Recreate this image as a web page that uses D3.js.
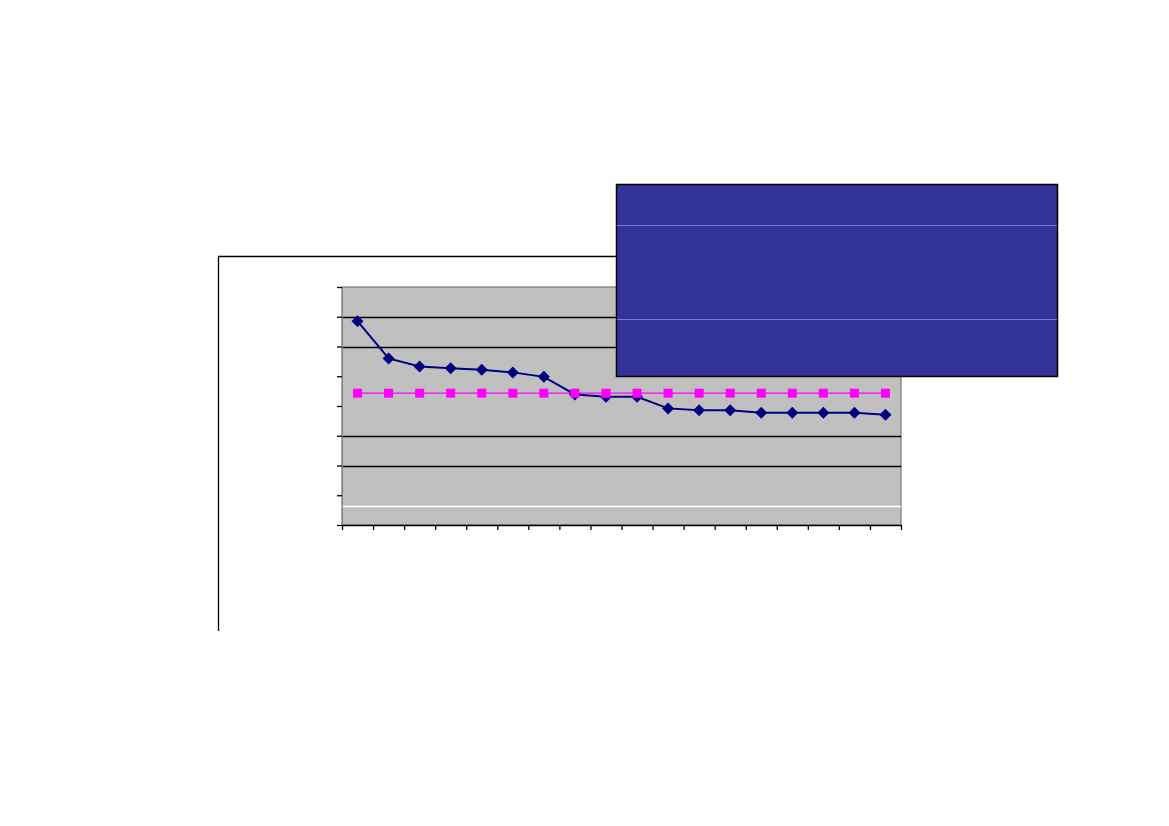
<!DOCTYPE html>
<html>
<head>
<meta charset="utf-8">
<script src="https://cdn.jsdelivr.net/npm/d3@7"></script>
<style>
  body { margin: 0; background: #fff; }
  svg { display: block; }
</style>
</head>
<body>
<div id="chart"></div>
<script>
// categories (no labels are shown in the picture)
const categories = d3.range(1, 19).map(function (d) { return 'c' + d })

// series values
const seriesA = [6.85, 5.6, 5.33, 5.27, 5.22, 5.13, 4.98, 4.39, 4.31, 4.31,
  3.92, 3.86, 3.86, 3.77, 3.77, 3.77, 3.77, 3.71]
const seriesB = categories.map(function () { return 4.43 })

// y axis ticks, and which ones carry a gridline
const yTicks = [0, 1, 2, 3, 4, 5, 6, 7, 8]
const gridTicks = [2, 3, 6, 7]
const whiteLine = 0.64

const width = 1169
const height = 826
const plot = { left: 342, top: 287, right: 901, bottom: 525 }

const svg = d3.select('#chart').append('svg')
  .attr('width', width)
  .attr('height', height)

// outer chart frame (left and top edges)
svg.append('path')
  .attr('d', 'M218.5,631V256.5H616')
  .attr('fill', 'none')
  .attr('stroke', '#000')
  .attr('stroke-width', 1.3)

const x = d3.scaleBand()
  .domain(categories)
  .range([plot.left, plot.right])

const y = d3.scaleLinear()
  .domain([0, 8])
  .range([plot.bottom, plot.top])

// plot area
svg.append('rect')
  .attr('x', plot.left)
  .attr('y', plot.top)
  .attr('width', plot.right - plot.left)
  .attr('height', plot.bottom - plot.top)
  .attr('fill', '#C0C0C0')
  .attr('stroke', '#808080')
  .attr('stroke-width', 1.3)

// gridlines
svg.append('g')
  .selectAll('line')
  .data(gridTicks)
  .enter().append('line')
  .attr('x1', plot.left)
  .attr('x2', plot.right)
  .attr('y1', function (d) { return Math.round(y(d)) + 0.5 })
  .attr('y2', function (d) { return Math.round(y(d)) + 0.5 })
  .attr('stroke', '#000')
  .attr('stroke-width', 1.3)

svg.append('line')
  .attr('x1', plot.left)
  .attr('x2', plot.right)
  .attr('y1', Math.round(y(whiteLine)) + 0.5)
  .attr('y2', Math.round(y(whiteLine)) + 0.5)
  .attr('stroke', '#fff')
  .attr('stroke-width', 1.3)

// axes without labels
const yAxis = d3.axisLeft(y)
  .tickValues(yTicks)
  .tickSize(5)
  .tickFormat('')

svg.append('g')
  .attr('transform', 'translate(' + plot.left + ',0)')
  .call(yAxis)
  .call(function (g) { g.select('.domain').attr('stroke', '#808080') })
  .selectAll('line').attr('stroke-width', 1.3)

const xEdges = categories.map(function (d) { return x(d) }).concat([plot.right])
const xAxis = d3.axisBottom(d3.scaleLinear().domain([plot.left, plot.right]).range([plot.left, plot.right]))
  .tickValues(xEdges)
  .tickSize(5)
  .tickSizeOuter(0)
  .tickFormat('')

svg.append('g')
  .attr('transform', 'translate(0,' + plot.bottom + ')')
  .call(xAxis)
  .selectAll('line, path').attr('stroke-width', 1.3)

const cx = function (d, i) { return x(categories[i]) + x.bandwidth() / 2 }

// magenta series
svg.append('path')
  .datum(seriesB)
  .attr('fill', 'none')
  .attr('stroke', '#FF00FF')
  .attr('stroke-width', 1.3)
  .attr('d', d3.line().x(cx).y(function (d) { return y(d) }))

// navy series
svg.append('path')
  .datum(seriesA)
  .attr('fill', 'none')
  .attr('stroke', '#000080')
  .attr('stroke-width', 2)
  .attr('d', d3.line().x(cx).y(function (d) { return y(d) }))

svg.append('g')
  .selectAll('path')
  .data(seriesA)
  .enter().append('path')
  .attr('transform', function (d, i) { return 'translate(' + cx(d, i) + ',' + y(d) + ')' })
  .attr('d', 'M0,-6L6,0L0,6L-6,0Z')
  .attr('fill', '#000080')

svg.append('g')
  .selectAll('rect')
  .data(seriesB)
  .enter().append('rect')
  .attr('x', function (d, i) { return cx(d, i) - 4.5 })
  .attr('y', function (d) { return y(d) - 4.5 })
  .attr('width', 9)
  .attr('height', 9)
  .attr('fill', '#FF00FF')

// blue box over the top right
const box = { left: 616, top: 184, right: 1057, bottom: 376 }
svg.append('rect')
  .attr('x', box.left + 0.5)
  .attr('y', box.top + 0.5)
  .attr('width', box.right - box.left)
  .attr('height', box.bottom - box.top)
  .attr('fill', '#333399')
  .attr('stroke', '#000')
  .attr('stroke-width', 1.5)

svg.append('g')
  .selectAll('line')
  .data([225.5, 319.5])
  .enter().append('line')
  .attr('x1', box.left + 1)
  .attr('x2', box.right)
  .attr('y1', function (d) { return d })
  .attr('y2', function (d) { return d })
  .attr('stroke', '#7B7BD0')
  .attr('stroke-width', 1)
</script>
</body>
</html>
